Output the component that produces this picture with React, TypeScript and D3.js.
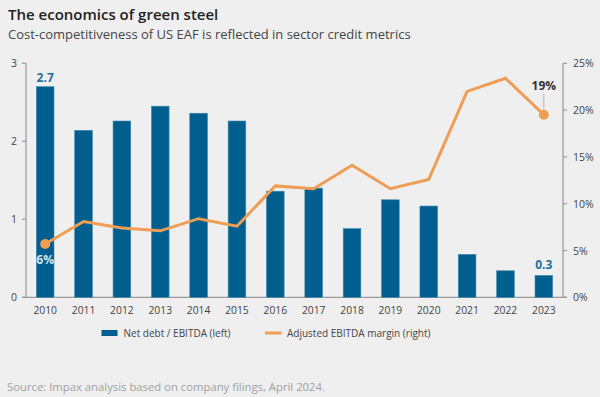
import React from "react";
import * as d3 from "d3";

const years = ["2010","2011","2012","2013","2014","2015","2016","2017","2018","2019","2020","2021","2022","2023"];
const netDebt = [2.7, 2.14, 2.26, 2.45, 2.36, 2.26, 1.36, 1.4, 0.88, 1.25, 1.17, 0.55, 0.34, 0.28];
const margin = [5.7, 8.1, 7.4, 7.1, 8.4, 7.6, 11.9, 11.6, 14.1, 11.6, 12.6, 22.0, 23.4, 19.5];
const leftTicks = [0, 1, 2, 3];
const rightTicks = [0, 5, 10, 15, 20, 25];

const W = 600, H = 397;
const x0 = 26, x1 = 563, yTop = 63.3, yBot = 297.3;
const FONT = "'Open Sans', sans-serif";
const BLUE = "#005f8f";
const ORANGE = "#ef9d55";

export default function App() {
  const x = d3.scaleBand<string>().domain(years).range([x0, x1]).paddingInner(0.54).paddingOuter(0.27);
  const yL = d3.scaleLinear().domain([0, 3]).range([yBot, yTop]);
  const yR = d3.scaleLinear().domain([0, 25]).range([yBot, yTop]);
  const cx = (y: string) => (x(y) as number) + x.bandwidth() / 2;
  const line = d3.line<number>().x((_, i) => cx(years[i])).y((d) => yR(d));
  const last = years.length - 1;
  return (
    <svg width={W} height={H} style={{ position: "absolute", left: 0, top: 0, background: "#efefef" }} fontFamily={FONT}>
      <rect width={W} height={H} fill="#efefef" />
      <text x={8} y={20} fontSize={15} fontWeight={600} fill="#222">The economics of green steel</text>
      <text x={8} y={38.5} fontSize={13} fill="#444">Cost-competitiveness of US EAF is reflected in sector credit metrics</text>

      {/* axes */}
      <line x1={x0} x2={x0} y1={yTop} y2={yBot} stroke="#9a9a9a" strokeWidth={1.2} />
      <line x1={x1} x2={x1} y1={yTop} y2={yBot} stroke="#9a9a9a" strokeWidth={1.2} />
      <line x1={x0 - 4} x2={x1 + 4} y1={yBot} y2={yBot} stroke="#9a9a9a" strokeWidth={1.2} />
      {leftTicks.map((t) => (
        <g key={"l" + t}>
          <line x1={x0 - 4} x2={x0} y1={yL(t)} y2={yL(t)} stroke="#9a9a9a" strokeWidth={1.2} />
          <text x={14} y={yL(t) + 4} fontSize={10.5} fill="#444" textAnchor="middle">{t}</text>
        </g>
      ))}
      {rightTicks.map((t) => (
        <g key={"r" + t}>
          <line x1={x1} x2={x1 + 4} y1={yR(t)} y2={yR(t)} stroke="#9a9a9a" strokeWidth={1.2} />
          <text x={573} y={yR(t) + 4} fontSize={10.5} fill="#444">{t}%</text>
        </g>
      ))}
      {years.map((yr) => (
        <text key={"x" + yr} x={cx(yr)} y={314} fontSize={10.3} fill="#444" textAnchor="middle">{yr}</text>
      ))}

      {/* bars */}
      {netDebt.map((v, i) => (
        <rect key={"b" + i} x={x(years[i])} y={yL(v)} width={x.bandwidth()} height={yBot - yL(v)} fill={BLUE} stroke="#3f86ab" strokeWidth={0.6} />
      ))}

      {/* line */}
      <path d={line(margin) || ""} fill="none" stroke={ORANGE} strokeWidth={3} strokeLinejoin="miter" />
      <circle cx={cx(years[0])} cy={yR(margin[0])} r={5} fill={ORANGE} />
      <circle cx={cx(years[last])} cy={yR(margin[last])} r={5} fill={ORANGE} />

      {/* labels */}
      <text x={cx(years[0])} y={yL(netDebt[0]) - 5} fontSize={12} fontWeight={700} fill="#1f6f9f" textAnchor="middle">2.7</text>
      <text x={cx(years[0])} y={yR(margin[0]) + 20} fontSize={12} fontWeight={700} fill="#d5e4ee" textAnchor="middle">6%</text>
      <text x={cx(years[last])} y={yL(netDebt[last]) - 6} fontSize={12} fontWeight={700} fill="#1f6f9f" textAnchor="middle">0.3</text>
      <text x={cx(years[last])} y={90} fontSize={12} fontWeight={700} fill="#333" textAnchor="middle">19%</text>
      <line x1={cx(years[last])} x2={cx(years[last])} y1={94} y2={yR(margin[last]) - 5} stroke="#aaa" strokeWidth={0.8} />

      {/* legend */}
      <rect x={101.5} y={330} width={16} height={6} fill={BLUE} />
      <text x={123.5} y={337} fontSize={10} fill="#444">Net debt / EBITDA (left)</text>
      <rect x={265} y={331.5} width={16.5} height={3} fill={ORANGE} />
      <text x={287} y={337} fontSize={10} fill="#444">Adjusted EBITDA margin (right)</text>

      <text x={7} y={391} fontSize={11.3} fill="#a0a0a0">Source: Impax analysis based on company filings, April 2024.</text>
    </svg>
  );
}
